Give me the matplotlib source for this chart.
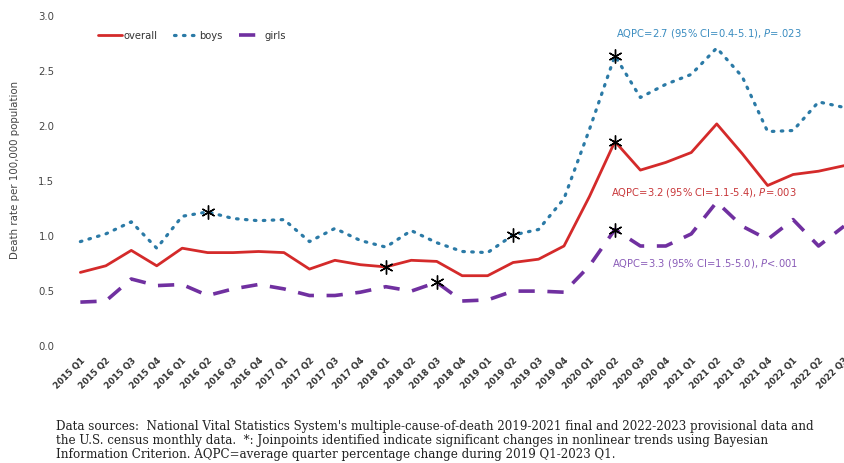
import matplotlib
matplotlib.use('Agg')
import matplotlib.pyplot as plt

# quarters 2015 Q1 .. 2022 Q3
quarters = [f'{y} Q{q}' for y in range(2015, 2023) for q in range(1, 5)][:31]

overall = [0.66, 0.72, 0.86, 0.72, 0.88, 0.84, 0.84, 0.85, 0.84, 0.69,
           0.77, 0.73, 0.71, 0.77, 0.76, 0.63, 0.63, 0.75, 0.78, 0.90,
           1.35, 1.85, 1.59, 1.66, 1.75, 2.01, 1.74, 1.45, 1.55, 1.58, 1.63]
boys = [0.94, 1.01, 1.12, 0.88, 1.17, 1.21, 1.15, 1.13, 1.14, 0.94,
        1.06, 0.95, 0.89, 1.04, 0.93, 0.85, 0.84, 1.00, 1.05, 1.33,
        1.96, 2.63, 2.25, 2.37, 2.46, 2.70, 2.44, 1.94, 1.95, 2.21, 2.16]
girls = [0.39, 0.40, 0.60, 0.54, 0.55, 0.45, 0.51, 0.55, 0.51, 0.45,
         0.45, 0.48, 0.53, 0.49, 0.57, 0.40, 0.41, 0.49, 0.49, 0.48,
         0.72, 1.05, 0.90, 0.90, 1.01, 1.30, 1.08, 0.96, 1.14, 0.90, 1.08]

# joinpoints (index into quarters)
jp_overall = [12, 21]
jp_boys = [5, 17, 21]
jp_girls = [14, 21]

RED = '#d42a2a'
BLUE = '#2b7aa6'
PURPLE = '#7030a0'

plt.rcParams['font.family'] = ['DejaVu Sans']

fig = plt.figure(figsize=(8.44, 4.64), dpi=100)
ax = fig.add_axes([60 / 844, 118 / 464, 1 - 60 / 844, 330 / 464])

x = list(range(len(quarters)))
ax.plot(x, overall, color=RED, lw=2.0, label='overall', solid_capstyle='round')
ax.plot(x, boys, color=BLUE, lw=2.3, ls=(0, (0.5, 2.3)), dash_capstyle='round', label='boys')
ax.plot(x, girls, color=PURPLE, lw=2.6, ls=(0, (4.5, 3.5)), label='girls')

star = (6, 2, 0)
for series, idx in ((overall, jp_overall), (boys, jp_boys), (girls, jp_girls)):
    ax.plot(idx, [series[i] for i in idx], ls='none', marker=star, ms=10,
            mec='black', mew=1.0, color='black', zorder=5)

ax.set_xlim(-0.8, 30.0)
ax.set_ylim(0, 3.0)
ax.set_yticks([0, 0.5, 1.0, 1.5, 2.0, 2.5, 3.0])
ax.set_yticklabels(['0.0', '0.5', '1.0', '1.5', '2.0', '2.5', '3.0'], fontsize=7.3, color='#444444')
ax.set_xticks(x)
ax.set_xticklabels(quarters, rotation=45, ha='right', rotation_mode='anchor',
                   fontsize=6.2, fontweight='bold', color='#333333')
ax.tick_params(length=0, axis='y', pad=4)
ax.tick_params(length=0, axis='x', pad=7)
for s in ax.spines.values():
    s.set_visible(False)

fig.text(15 / 844, 1 - 170 / 464, 'Death rate per 100,000 population', rotation=90,
         ha='center', va='center', fontsize=7.4, color='#444444')

leg = fig.legend(loc='center', bbox_to_anchor=(192 / 844, 1 - 36 / 464), ncol=3, frameon=False,
                 fontsize=7.2, handlelength=2.4, handletextpad=0.2, columnspacing=1.6)
for t in leg.get_texts():
    t.set_color('#333333')

fig.text(616 / 844, 1 - 34 / 464, 'AQPC=2.7 (95% CI=0.4-5.1), $\\mathit{P}$=.023',
         color='#3a8cc0', fontsize=7.2, va='center')
fig.text(611 / 844, 1 - 193 / 464, 'AQPC=3.2 (95% CI=1.1-5.4), $\\mathit{P}$=.003',
         color='#c8373a', fontsize=7.2, va='center')
fig.text(612 / 844, 1 - 263 / 464, 'AQPC=3.3 (95% CI=1.5-5.0), $\\mathit{P}$<.001',
         color='#8a5cb8', fontsize=7.2, va='center')

note = ("Data sources:  National Vital Statistics System's multiple-cause-of-death 2019-2021 final and 2022-2023 provisional data and\n"
        "the U.S. census monthly data.  *: Joinpoints identified indicate significant changes in nonlinear trends using Bayesian\n"
        "Information Criterion. AQPC=average quarter percentage change during 2019 Q1-2023 Q1.")
fig.text(56 / 844, 1 - 420 / 464, note, family='DejaVu Serif', fontsize=8.6,
         color='#222222', va='top', linespacing=1.12)

fig.savefig('out.png', dpi=100)
